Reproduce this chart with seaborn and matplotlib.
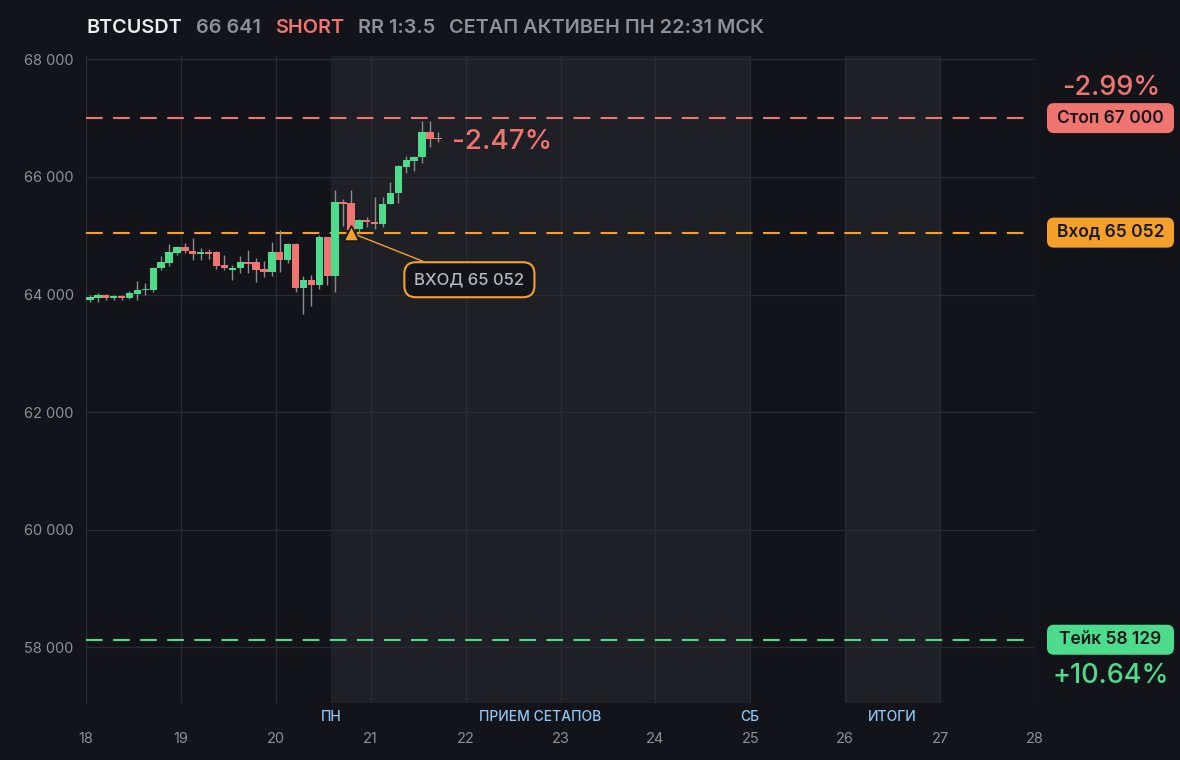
import matplotlib
matplotlib.use("Agg")
import matplotlib.pyplot as plt
import seaborn as sns
import numpy as np
import pandas as pd
from matplotlib.patches import FancyBboxPatch
from matplotlib.transforms import IdentityTransform, blended_transform_factory

# 2-hour candles starting at day 18 00:00
candle_open = [63910, 63935, 63990, 63935, 63975, 63945, 64015, 64070, 64080, 64445,
               64535, 64705, 64810, 64740, 64685, 64715, 64715, 64500, 64420, 64445,
               64560, 64545, 64435, 64375, 64715, 64580, 64855, 64105, 64250, 64160,
               64980, 64310, 65580, 65555, 65115, 65275, 65240, 65195, 65545, 65730,
               66160, 66265, 66330, 66765, 66655]
candle_high = [63990, 64025, 64010, 64000, 64000, 64060, 64235, 64190, 64460, 64660,
               64855, 64830, 64870, 64965, 64790, 64770, 64740, 64670, 64500, 64660,
               64750, 64625, 64570, 64900, 65100, 64870, 64870, 64310, 64330, 65020,
               64985, 65785, 65620, 65785, 65290, 65310, 65650, 65650, 65920, 66210,
               66350, 66350, 66945, 66945, 66760]
candle_low = [63870, 63880, 63900, 63900, 63900, 63930, 63910, 64000, 64045, 64410,
              64490, 64680, 64700, 64590, 64580, 64610, 64440, 64410, 64250, 64370,
              64370, 64215, 64300, 64310, 64375, 64540, 64035, 63670, 63800, 64100,
              64170, 64035, 65160, 65080, 65060, 65150, 65120, 65150, 65545, 65560,
              66070, 66100, 66240, 66500, 66590]
candle_close = [63950, 63990, 63935, 63975, 63945, 64025, 64080, 64100, 64455, 64545,
                64715, 64810, 64740, 64685, 64715, 64685, 64490, 64445, 64455, 64560,
                64525, 64420, 64375, 64715, 64580, 64855, 64105, 64250, 64160, 64980,
                64310, 65580, 65545, 65105, 65275, 65230, 65195, 65545, 65730, 66185,
                66285, 66330, 66765, 66650, 66641]
candle_start = 18.0
candle_step = 1 / 12

days = [18, 19, 20, 21, 22, 23, 24, 25, 26, 27, 28]
price_ticks = [58000, 60000, 62000, 64000, 66000, 68000]

stop_price = 67000
entry_price = 65052
take_price = 58129
last_price = 66641
entry_time = 20.79

bands = [(20.583, 25.0), (26.0, 27.0)]
band_labels = ["ПН", "ПРИЕМ СЕТАПОВ", "СБ", "ИТОГИ"]
band_label_x = [20.583, 22.79, 25.0, 26.5]

BG = "#131419"
SHADE = "#1f2025"
GRID = "#2a2b30"
GREEN = "#4ddc8c"
RED = "#f07470"
ORANGE = "#f5a02a"
GRAY = "#8e9097"

sns.set_theme(style="dark", rc={
    "figure.facecolor": BG, "axes.facecolor": BG, "savefig.facecolor": BG,
    "grid.color": GRID, "text.color": GRAY,
})
plt.rcParams["font.family"] = ["Inter", "DejaVu Sans"]

W, H = 1180, 760
fig = plt.figure(figsize=(W / 100, H / 100), dpi=100)
ax = fig.add_axes([86 / W, 1 - 703 / H, (1035 - 86) / W, (703 - 56) / H])
ax.set_xlim(18, 28)
ax.set_ylim(57053, 68056)

for x0, x1 in bands:
    ax.axvspan(x0, x1, color=SHADE, lw=0, zorder=0)

ax.set_xticks(days)
ax.set_xticklabels([str(d) for d in days])
ax.set_yticks(price_ticks)
ax.set_yticklabels([f"{p:,}".replace(",", " ") for p in price_ticks])
ax.grid(True, color=GRID, lw=1)
ax.set_axisbelow(True)
for s in ax.spines.values():
    s.set_visible(False)
ax.tick_params(axis="x", length=0, pad=21, colors=GRAY, labelsize=10.5)
ax.tick_params(axis="y", length=0, pad=9, colors=GRAY, labelsize=10.5)

# level lines
for price, col in [(stop_price, RED), (entry_price, ORANGE), (take_price, GREEN)]:
    ax.hlines(price, 18, 27.94, colors=col, lw=1.5, linestyles=(0, (8, 5)), zorder=2)

# candles
df = pd.DataFrame({"open": candle_open, "high": candle_high,
                   "low": candle_low, "close": candle_close})
df["t"] = candle_start + (np.arange(len(df)) + 0.5) * candle_step
df["up"] = df["close"] >= df["open"]
ax.vlines(df["t"], df["low"], df["high"], colors="#8a8c92", lw=1, zorder=3)
body = (df["close"] - df["open"]).abs().clip(lower=12)
ax.bar(df["t"], body, bottom=df[["open", "close"]].min(axis=1), width=0.078,
       color=np.where(df["up"], GREEN, RED), lw=0, zorder=4)

# entry marker + callout
ax.annotate("ВХОД 65 052", xy=(entry_time, entry_price), xytext=(22.04, 64251),
            ha="center", va="center", fontsize=12, color="#b5b7bd", fontweight="medium",
            bbox=dict(boxstyle="round,pad=0.6,rounding_size=0.7", fc=BG, ec=ORANGE, lw=1.5),
            arrowprops=dict(arrowstyle="-", color=ORANGE, lw=1, shrinkA=0, shrinkB=0),
            zorder=5)
sns.scatterplot(x=[entry_time], y=[entry_price], marker="^", s=120, color=ORANGE,
                edgecolor=BG, linewidth=1.2, zorder=6, ax=ax, legend=False)

ax.text(21.857, 66600, "-2.47%", color=RED, fontsize=20, fontweight="medium",
        ha="left", va="center", zorder=6)

# band labels under the axis
btr = blended_transform_factory(ax.transData, ax.transAxes)
for lab, x in zip(band_labels, band_label_x):
    ax.text(x, -14 / 647, lab, transform=btr, ha="center", va="center",
            fontsize=10, color="#8ec5f5", fontweight="medium", clip_on=False)

# right side price tags
fig.canvas.draw()
for price, col, lab in [(stop_price, RED, "Стоп 67 000"), (entry_price, ORANGE, "Вход 65 052"),
                        (take_price, GREEN, "Тейк 58 129")]:
    yd = ax.transData.transform((20, price))[1]
    fig.add_artist(FancyBboxPatch((1047, yd - 15), 127, 30,
                                  boxstyle="round,pad=0,rounding_size=7",
                                  fc=col, ec="none", transform=IdentityTransform()))
    fig.text(1110.5 / W, yd / H, lab, ha="center", va="center", fontsize=12.5,
             color="#17181b", fontweight="semibold")

fig.text(1111 / W, 1 - 88 / H, "-2.99%", ha="center", va="center", fontsize=19.5,
         color=RED, fontweight="medium")
fig.text(1111 / W, 1 - 676 / H, "+10.64%", ha="center", va="center", fontsize=19.5,
         color=GREEN, fontweight="medium")

# title line
title_parts = [("BTCUSDT", "#ececee", 86), ("66 641", GRAY, 196), ("SHORT", RED, 275),
               ("RR 1:3.5", GRAY, 358), ("СЕТАП АКТИВЕН ПН 22:31 МСК", GRAY, 449)]
for txt, col, xp in title_parts:
    fig.text(xp / W, 1 - 28 / H, txt, ha="left", va="center", fontsize=14.3,
             color=col, fontweight="semibold")

fig.savefig("out.png", dpi=100)
